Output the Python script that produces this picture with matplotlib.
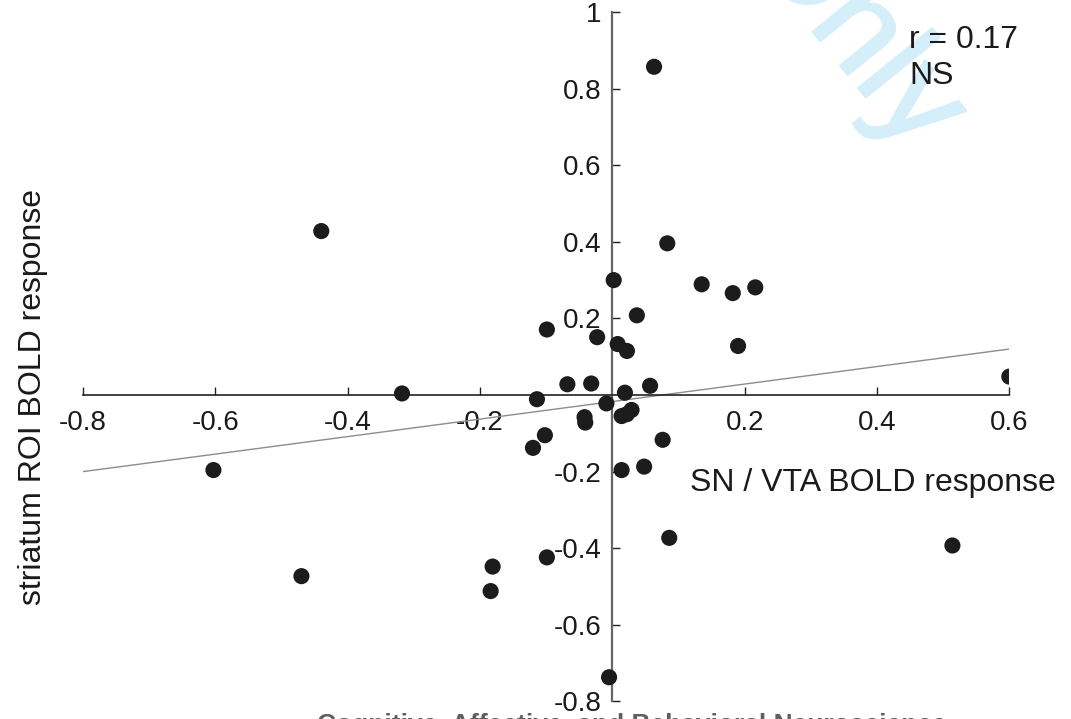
import matplotlib
matplotlib.use("Agg")
import matplotlib.pyplot as plt
import matplotlib.patheffects as pe

plt.rcParams['font.family'] = ['Liberation Sans', 'DejaVu Sans']

# data (SN/VTA response, striatum response)
sn_vta = [0.063, 0.083, 0.002, 0.135, 0.182, 0.216, 0.037, -0.099, -0.023, 0.008,
          0.022, 0.190, -0.068, -0.032, 0.057, 0.019, -0.114, -0.009, -0.042, -0.041,
          0.014, 0.022, 0.029, -0.102, -0.120, 0.076, 0.014, 0.048, 0.086, -0.099,
          -0.181, -0.184, -0.005, -0.318, -0.603, 0.600, 0.514, -0.440, -0.470]
striatum = [0.857, 0.396, 0.300, 0.289, 0.266, 0.281, 0.208, 0.171, 0.151, 0.133,
            0.115, 0.128, 0.028, 0.030, 0.024, 0.006, -0.011, -0.022, -0.058, -0.072,
            -0.055, -0.050, -0.039, -0.105, -0.138, -0.117, -0.196, -0.187, -0.373, -0.424,
            -0.448, -0.512, -0.737, 0.004, -0.196, 0.048, -0.393, 0.428, -0.473]
fit_x = [-0.8, 0.6]
fit_y = [-0.200, 0.120]
x_ticks = [-0.8, -0.6, -0.4, -0.2, 0.2, 0.4, 0.6]
x_ticklabels = ['-0.8', '-0.6', '-0.4', '-0.2', '0.2', '0.4', '0.6']
y_ticks = [-0.8, -0.6, -0.4, -0.2, 0.2, 0.4, 0.6, 0.8, 1.0]
y_ticklabels = ['-0.8', '-0.6', '-0.4', '-0.2', '0.2', '0.4', '0.6', '0.8', '1']

fig = plt.figure(figsize=(10.71, 7.19), dpi=100)

# watermark (behind)
wm = fig.text(912 / 1071, 1 - 154 / 719, 'For Review Only', fontsize=94, color='#d4eefa',
              rotation=-51, rotation_mode='anchor', ha='right', va='baseline', zorder=0)
wm.set_path_effects([pe.withStroke(linewidth=2, foreground='#d4eefa')])

ax = fig.add_axes([0.0776, 0.0245, 0.9424 - 0.0776, 0.9833 - 0.0245])
ax.patch.set_alpha(0)
ax.set_xlim(-0.8, 0.6)
ax.set_ylim(-0.8, 1.0)

ax.plot(fit_x, fit_y, color='#8c8c8c', lw=1.0, zorder=2)
ax.scatter(sn_vta, striatum, s=135, color='#1c1c1c', edgecolors='none', zorder=3)

for s in ['top', 'right']:
    ax.spines[s].set_visible(False)
ax.spines['left'].set_position(('data', 0))
ax.spines['bottom'].set_position(('data', 0))
ax.spines['bottom'].set_color('#222222')
ax.spines['left'].set_color('#666666')
ax.spines['bottom'].set_linewidth(1.2)
ax.spines['left'].set_linewidth(1.6)

ax.set_xticks(x_ticks)
ax.set_xticklabels(x_ticklabels)
ax.set_yticks(y_ticks)
ax.set_yticklabels(y_ticklabels)
ax.tick_params(axis='x', direction='in', length=6, width=1, color='#222222',
               labelsize=20, pad=11, labelcolor='#1a1a1a')
ax.tick_params(axis='y', direction='in', length=6, width=1, color='#222222',
               labelsize=20, pad=8, labelcolor='#1a1a1a')

fig.text(690 / 1071, 1 - 483 / 719, 'SN / VTA BOLD response', fontsize=23,
         color='#1a1a1a', ha='left', va='center')
fig.text(33 / 1071, 1 - 397 / 719, 'striatum ROI BOLD response', fontsize=23,
         color='#1a1a1a', ha='center', va='center', rotation=90)
fig.text(909 / 1071, 1 - 40 / 719, 'r = 0.17', fontsize=23, color='#1a1a1a',
         ha='left', va='center')
fig.text(909 / 1071, 1 - 76 / 719, 'NS', fontsize=23, color='#1a1a1a',
         ha='left', va='center')

fig.text(632 / 1071, 1 - 732 / 719, 'Cognitive, Affective, and Behavioral Neuroscience',
         fontsize=19, fontweight='bold', color='#5f5f5f', ha='center', va='baseline')

fig.savefig('out.png', dpi=100)
